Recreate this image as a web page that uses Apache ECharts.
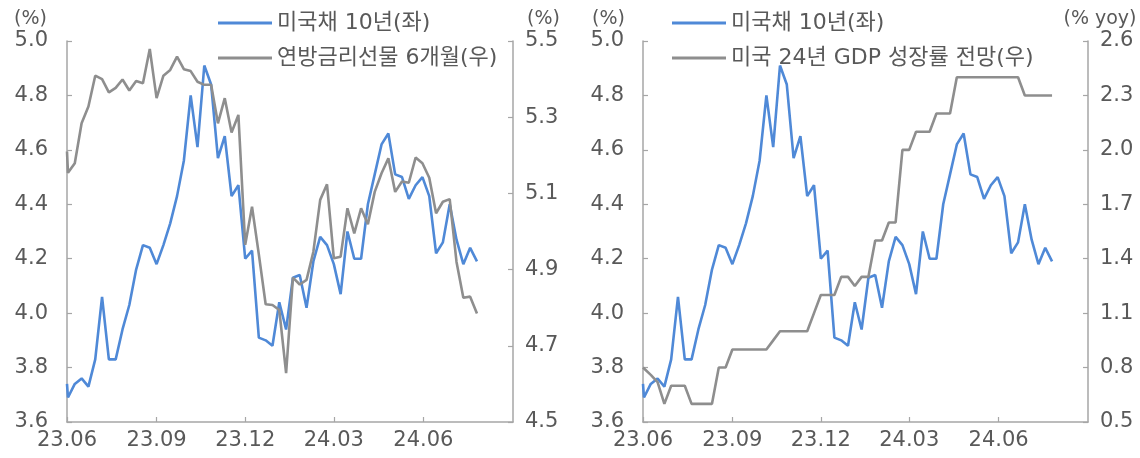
<!DOCTYPE html>
<html lang="ko">
<head>
<meta charset="utf-8">
<title>미국채 10년 금리, 연방금리선물, 미국 GDP 성장률 전망</title>
<script src="https://cdn.jsdelivr.net/npm/echarts@6/dist/echarts.min.js"></script>
<style>
  html, body { margin: 0; padding: 0; background: #ffffff; }
  #chart { width: 1140px; height: 458px; }
</style>
</head>
<body>
<div id="chart"></div>
<script>
// Weekly observations (Fridays), preceded by the 2023-06-01 starting value
const dates = [
  '2023-06-01',
  '2023-06-02', '2023-06-09', '2023-06-16', '2023-06-23', '2023-06-30',
  '2023-07-07', '2023-07-14', '2023-07-21', '2023-07-28',
  '2023-08-04', '2023-08-11', '2023-08-18', '2023-08-25',
  '2023-09-01', '2023-09-08', '2023-09-15', '2023-09-22', '2023-09-29',
  '2023-10-06', '2023-10-13', '2023-10-20', '2023-10-27',
  '2023-11-03', '2023-11-10', '2023-11-17', '2023-11-24',
  '2023-12-01', '2023-12-08', '2023-12-15', '2023-12-22', '2023-12-29',
  '2024-01-05', '2024-01-12', '2024-01-19', '2024-01-26',
  '2024-02-02', '2024-02-09', '2024-02-16', '2024-02-23',
  '2024-03-01', '2024-03-08', '2024-03-15', '2024-03-22', '2024-03-29',
  '2024-04-05', '2024-04-12', '2024-04-19', '2024-04-26',
  '2024-05-03', '2024-05-10', '2024-05-17', '2024-05-24', '2024-05-31',
  '2024-06-07', '2024-06-14', '2024-06-21', '2024-06-28',
  '2024-07-05', '2024-07-12', '2024-07-19', '2024-07-26'
];

// 미국채 10년 금리 (%)
const ust10y = [
  3.74,
  3.69, 3.74, 3.76, 3.73, 3.83,
  4.06, 3.83, 3.83, 3.94,
  4.03, 4.16, 4.25, 4.24,
  4.18, 4.25, 4.33, 4.43, 4.56,
  4.80, 4.61, 4.91, 4.84,
  4.57, 4.65, 4.43, 4.47,
  4.20, 4.23, 3.91, 3.90, 3.88,
  4.04, 3.94, 4.13, 4.14,
  4.02, 4.19, 4.28, 4.25,
  4.18, 4.07, 4.30, 4.20, 4.20,
  4.40, 4.51, 4.62, 4.66,
  4.51, 4.50, 4.42, 4.47, 4.50,
  4.43, 4.22, 4.26, 4.40,
  4.27, 4.18, 4.24, 4.19
];

// 연방금리선물 6개월 내재금리 (%)
const ffFutures6m = [
  5.21,
  5.154, 5.179, 5.284, 5.328, 5.409,
  5.400, 5.365, 5.377, 5.399,
  5.370, 5.395, 5.389, 5.479,
  5.350, 5.409, 5.424, 5.459, 5.426,
  5.421, 5.393, 5.385, 5.385,
  5.284, 5.350, 5.260, 5.306,
  4.965, 5.065, 4.940, 4.809, 4.807,
  4.794, 4.628, 4.879, 4.861,
  4.873, 4.947, 5.083, 5.124,
  4.930, 4.934, 5.061, 4.995, 5.061,
  5.019, 5.104, 5.153, 5.192,
  5.104, 5.131, 5.128, 5.194, 5.179,
  5.141, 5.048, 5.078, 5.085,
  4.920, 4.826, 4.829, 4.785
];

// 미국 24년 GDP 성장률 전망 (% yoy)
const gdp2024Forecast = [
  0.80,
  0.80, 0.76, 0.72, 0.60, 0.70,
  0.70, 0.70, 0.60, 0.60,
  0.60, 0.60, 0.80, 0.80,
  0.90, 0.90, 0.90, 0.90, 0.90,
  0.90, 0.95, 1.00, 1.00,
  1.00, 1.00, 1.00, 1.10,
  1.20, 1.20, 1.20, 1.30, 1.30,
  1.25, 1.30, 1.30, 1.50,
  1.50, 1.60, 1.60, 2.00,
  2.00, 2.10, 2.10, 2.10, 2.20,
  2.20, 2.20, 2.40, 2.40,
  2.40, 2.40, 2.40, 2.40, 2.40,
  2.40, 2.40, 2.40, 2.30,
  2.30, 2.30, 2.30, 2.30
];

// Axis ranges and tick labels
const xStart = '2023-06-01';
const xEnd = '2024-09-01';
const xTickDates = ['2023-06-01', '2023-09-01', '2023-12-01', '2024-03-01', '2024-06-01'];
const yieldTicks = [3.6, 3.8, 4.0, 4.2, 4.4, 4.6, 4.8, 5.0];
const futuresTicks = [4.5, 4.7, 4.9, 5.1, 5.3, 5.5];
const gdpTicks = [0.5, 0.8, 1.1, 1.4, 1.7, 2.0, 2.3, 2.6];

const NAME_UST = '미국채 10년(좌)';
const NAME_FF = '연방금리선물 6개월(우)';
const NAME_GDP = '미국 24년 GDP 성장률 전망(우)';

const BLUE = '#4f89d7';
const GREY = '#8e8e8e';
const AXIS = '#a6a6a6';
const TEXT = '#595959';
const FONT = '"DejaVu Sans", "Noto Sans CJK KR", sans-serif';

// Dates are placed on a linear value axis in days since the start date
const DAY = 86400000;
function toTime(s) {
  const p = s.split('-').map(Number);
  return Date.UTC(p[0], p[1] - 1, p[2]);
}
const t0 = toTime(xStart);
function toDay(s) {
  return Math.round((toTime(s) - t0) / DAY);
}
function pairs(values) {
  return dates.map((d, i) => [toDay(d), values[i]]);
}
function yyMM(v) {
  const d = new Date(t0 + Math.round(v) * DAY);
  return String(d.getUTCFullYear()).slice(2) + '.' + String(d.getUTCMonth() + 1).padStart(2, '0');
}

const tickDays = xTickDates.map(toDay);

function xAxis(gridIndex) {
  return {
    type: 'value',
    gridIndex: gridIndex,
    min: 0,
    max: toDay(xEnd),
    axisLine: { show: true, lineStyle: { color: AXIS, width: 1.5 } },
    axisTick: { show: true, inside: true, length: 5, customValues: tickDays, lineStyle: { color: AXIS, width: 1.2 } },
    axisLabel: {
      customValues: tickDays,
      formatter: yyMM,
      color: TEXT, fontSize: 21, fontFamily: FONT, margin: 8
    },
    splitLine: { show: false }
  };
}

function yAxis(gridIndex, position, min, max, ticks, name, nameStyle, labelMargin) {
  return {
    type: 'value',
    gridIndex: gridIndex,
    position: position,
    min: min,
    max: max,
    name: name,
    nameLocation: 'end',
    nameGap: 12,
    nameTextStyle: Object.assign({ color: TEXT, fontSize: 19, fontFamily: FONT }, nameStyle),
    axisLine: { show: true, lineStyle: { color: AXIS, width: 1.5 } },
    axisTick: { show: true, inside: true, length: 5, customValues: ticks, lineStyle: { color: AXIS, width: 1.2 } },
    axisLabel: {
      customValues: ticks,
      formatter: v => Number(v).toFixed(1),
      color: TEXT, fontSize: 21, fontFamily: FONT, margin: labelMargin
    },
    splitLine: { show: false }
  };
}

function lineSeries(name, values, xi, yi, color, z) {
  return {
    name: name,
    type: 'line',
    xAxisIndex: xi,
    yAxisIndex: yi,
    data: pairs(values),
    showSymbol: false,
    symbol: 'none',
    z: z,
    lineStyle: { color: color, width: 2.6 },
    itemStyle: { color: color },
    emphasis: { disabled: true }
  };
}

const legendBase = {
  orient: 'vertical',
  top: 7,
  itemGap: 13,
  itemWidth: 54,
  itemHeight: 3,
  itemStyle: { borderWidth: 0 },
  icon: 'rect',
  textStyle: { color: TEXT, fontSize: 22, fontFamily: FONT }
};

const chart = echarts.init(document.getElementById('chart'), null, { renderer: 'canvas' });
chart.setOption({
  animation: false,
  backgroundColor: '#ffffff',
  textStyle: { fontFamily: FONT },
  grid: [
    { left: 67, right: 627, top: 41, bottom: 36, containLabel: false },
    { left: 643, right: 52, top: 41, bottom: 36, containLabel: false }
  ],
  legend: [
    Object.assign({ left: 213, data: [NAME_UST, NAME_FF] }, legendBase),
    Object.assign({ left: 667, data: [NAME_UST, NAME_GDP] }, legendBase)
  ],
  xAxis: [xAxis(0), xAxis(1)],
  yAxis: [
    yAxis(0, 'left', 3.6, 5.0, yieldTicks, '(%)', { align: 'right', padding: [0, 20, 0, 0] }, 19),
    yAxis(0, 'right', 4.5, 5.5, futuresTicks, '(%)', { align: 'left', padding: [0, 0, 0, 14] }, 12),
    yAxis(1, 'left', 3.6, 5.0, yieldTicks, '(%)', { align: 'right', padding: [0, 18, 0, 0] }, 19),
    yAxis(1, 'right', 0.5, 2.6, gdpTicks, '(% yoy)', { align: 'center', padding: [0, 0, 0, 24] }, 12)
  ],
  series: [
    lineSeries(NAME_UST, ust10y, 0, 0, BLUE, 2),
    lineSeries(NAME_FF, ffFutures6m, 0, 1, GREY, 3),
    lineSeries(NAME_UST, ust10y, 1, 2, BLUE, 2),
    lineSeries(NAME_GDP, gdp2024Forecast, 1, 3, GREY, 3)
  ]
});
</script>
</body>
</html>
